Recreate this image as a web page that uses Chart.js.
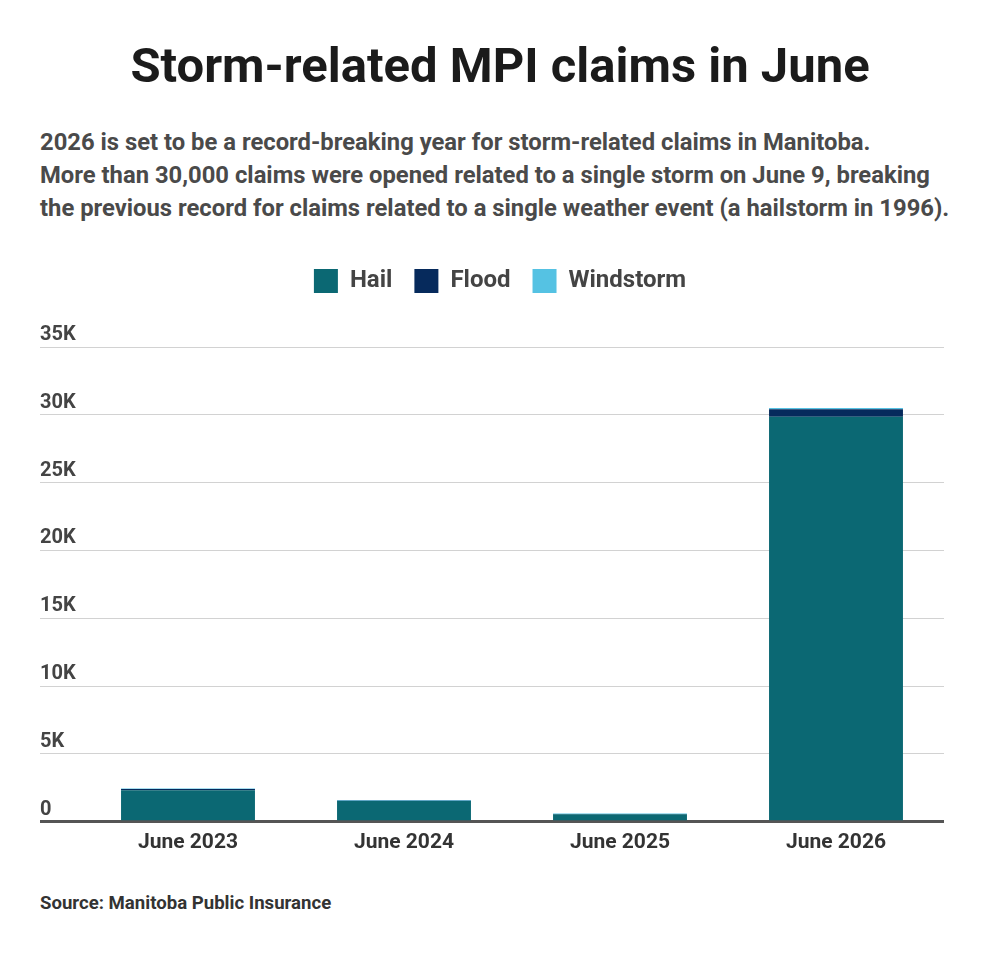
<!DOCTYPE html>
<html>
<head>
<meta charset="utf-8">
<script src="https://cdn.jsdelivr.net/npm/chart.js@4"></script>
<style>
  body { margin: 0; background: #fff; font-family: Roboto, sans-serif; }
  .page { position: relative; width: 1000px; height: 954px; }
  h1 { position: absolute; top: 35px; left: 0; width: 1000px; margin: 0; text-align: center;
       font: 700 49px/62px Roboto, sans-serif; color: #1b1b1b; }
  .desc { position: absolute; top: 126px; left: 40px; width: 950px; margin: 0;
          font: 700 23.8px/33px Roboto, sans-serif; color: #4a4a4a; white-space: nowrap; }
  .chart-box { position: absolute; top: 247px; left: 0; width: 1000px; height: 616px; }
  .source { position: absolute; top: 891px; left: 40px; margin: 0;
            font: 700 18.6px/24px Roboto, sans-serif; color: #333; }
</style>
</head>
<body>
<div class="page">
  <h1>Storm-related MPI claims in June</h1>
  <p class="desc">2026 is set to be a record-breaking year for storm-related claims in Manitoba.<br>
  More than 30,000 claims were opened related to a single storm on June 9, breaking<br>
  the previous record for claims related to a single weather event (a hailstorm in 1996).</p>
  <div class="chart-box"><canvas id="chart"></canvas></div>
  <p class="source">Source: Manitoba Public Insurance</p>
</div>
<script>
// данные (оценка по картинке)
const months = ['June 2023', 'June 2024', 'June 2025', 'June 2026'];
const hail = [2320, 1540, 560, 29850];
const flood = [100, 10, 10, 560];
const windstorm = [30, 50, 40, 100];

const yTicks = [0, 5000, 10000, 15000, 20000, 25000, 30000, 35000];

Chart.defaults.font.family = 'Roboto, sans-serif';
Chart.defaults.font.weight = 'bold';

// отступ под легендой и центрирование легенды по всей ширине
const legendGap = {
    id: 'legendGap',
    beforeInit(chart) {
        const fit = chart.legend.fit;
        chart.legend.fit = function() {
            fit.call(this);
            this.height += 44;
        };
    },
    afterLayout(chart) {
        chart.legend.left += 8;
        chart.legend.right += 8;
    }
};

new Chart(document.getElementById('chart'), {
    type: 'bar',
    data: {
        labels: months,
        datasets: [
            { label: 'Hail', data: hail, backgroundColor: '#0b6873' },
            { label: 'Flood', data: flood, backgroundColor: '#062a5c' },
            { label: 'Windstorm', data: windstorm, backgroundColor: '#55c2e3' }
        ]
    },
    plugins: [legendGap],
    options: {
        responsive: true,
        maintainAspectRatio: false,
        animation: false,
        devicePixelRatio: 1,
        barPercentage: 0.62,
        categoryPercentage: 1,
        layout: { padding: { left: 40, right: 56, top: 0, bottom: 0 } },
        plugins: {
            legend: {
                position: 'top',
                labels: {
                    boxWidth: 24,
                    boxHeight: 24,
                    padding: 22,
                    color: '#444',
                    font: { size: 24, weight: 'bold' }
                }
            },
            tooltip: { enabled: false }
        },
        scales: {
            x: {
                stacked: true,
                grid: { display: false, drawTicks: false },
                border: { display: false },
                ticks: { color: '#333', padding: 8, font: { size: 21, weight: 'bold' } }
            },
            y: {
                stacked: true,
                min: 0,
                max: 35000,
                afterBuildTicks: scale => { scale.ticks = yTicks.map(v => ({ value: v })); },
                afterFit: scale => { scale.width = 40; },
                border: { display: false },
                grid: {
                    tickLength: 40,
                    color: ctx => ctx.tick && ctx.tick.value === 0 ? '#555' : '#d2d2d2',
                    lineWidth: ctx => ctx.tick && ctx.tick.value === 0 ? 3 : 1
                },
                ticks: {
                    crossAlign: 'far',
                    labelOffset: -12,
                    color: '#444',
                    font: { size: 20, weight: 'bold' },
                    callback: v => v === 0 ? '0' : (v / 1000) + 'K'
                }
            }
        }
    }
});
</script>
</body>
</html>
